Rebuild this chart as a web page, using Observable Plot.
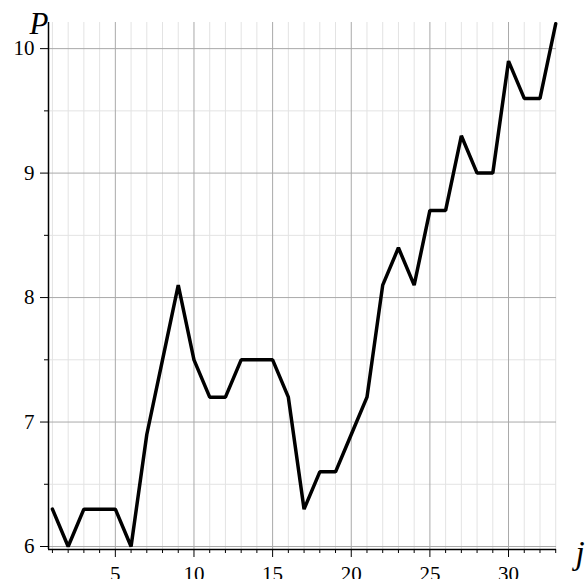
<!DOCTYPE html>
<html>
<head>
<meta charset="utf-8">
<script src="https://cdn.jsdelivr.net/npm/d3@7"></script>
<script src="https://cdn.jsdelivr.net/npm/@observablehq/plot@0.6"></script>
<style>
html, body { margin: 0; padding: 0; background: #fff; overflow: hidden; }
</style>
</head>
<body>
<div id="chart"></div>
<script>
const jValues = [1,2,3,4,5,6,7,8,9,10,11,12,13,14,15,16,17,18,19,20,21,22,23,24,25,26,27,28,29,30,31,32,33];
const pValues = [6.3,6.0,6.3,6.3,6.3,6.0,6.9,7.5,8.1,7.5,7.2,7.2,7.5,7.5,7.5,7.2,6.3,6.6,6.6,6.9,7.2,8.1,8.4,8.1,8.7,8.7,9.3,9.0,9.0,9.9,9.6,9.6,10.2];
const xMajorTicks = [5,10,15,20,25,30];
const xMinorTicks = [1,2,3,4,6,7,8,9,11,12,13,14,16,17,18,19,21,22,23,24,26,27,28,29,31,32,33];
const yMajorTicks = [6,7,8,9,10];
const yMinorTicks = [6.5,7.5,8.5,9.5];
const xDomain = [0.75, 33.05];
const yDomain = [5.976, 10.21];

const data = jValues.map((j, i) => ({j, P: pValues[i]}));

const chart = Plot.plot({
  width: 586,
  height: 579,
  marginLeft: 48,
  marginRight: 30,
  marginTop: 22,
  marginBottom: 30,
  style: {fontFamily: "'Liberation Serif', 'Times New Roman', serif", background: "#fff", color: "#000"},
  x: {domain: xDomain, label: null},
  y: {domain: yDomain, label: null},
  marks: [
    Plot.gridX({ticks: xMinorTicks, stroke: "#e3e3e3", strokeOpacity: 1}),
    Plot.gridY({ticks: yMinorTicks, stroke: "#e3e3e3", strokeOpacity: 1}),
    Plot.gridX({ticks: xMajorTicks, stroke: "#a9a9a9", strokeOpacity: 1}),
    Plot.gridY({ticks: yMajorTicks, stroke: "#a9a9a9", strokeOpacity: 1}),
    Plot.axisX({ticks: xMinorTicks, tickSize: 4, tickFormat: () => "", label: null, stroke: "#000"}),
    Plot.axisX({ticks: xMajorTicks, tickSize: 8, tickPadding: 9, fontSize: 21, tickFormat: "d", label: null, stroke: "#000"}),
    Plot.axisY({ticks: yMinorTicks, tickSize: 4, tickFormat: () => "", label: null, stroke: "#000"}),
    Plot.axisY({ticks: yMajorTicks, tickSize: 8, tickPadding: 6, fontSize: 21, tickFormat: "d", label: null, stroke: "#000"}),
    Plot.ruleX([xDomain[0]], {stroke: "#000", strokeWidth: 1.5}),
    Plot.ruleY([yDomain[0]], {stroke: "#000", strokeWidth: 1.5}),
    Plot.line(data, {x: "j", y: "P", stroke: "#000", strokeWidth: 3.5, strokeLinejoin: "miter"}),
    Plot.text(["P"], {frameAnchor: "top-left", text: d => d, textAnchor: "end", lineAnchor: "bottom", dy: 11, fontSize: 31, fontStyle: "italic", fill: "#000"}),
    Plot.text(["j"], {frameAnchor: "bottom-right", text: d => d, textAnchor: "start", lineAnchor: "bottom", dx: 19, dy: 14, fontSize: 33, fontStyle: "italic", fill: "#000"})
  ]
});
document.getElementById("chart").appendChild(chart);
</script>
</body>
</html>
